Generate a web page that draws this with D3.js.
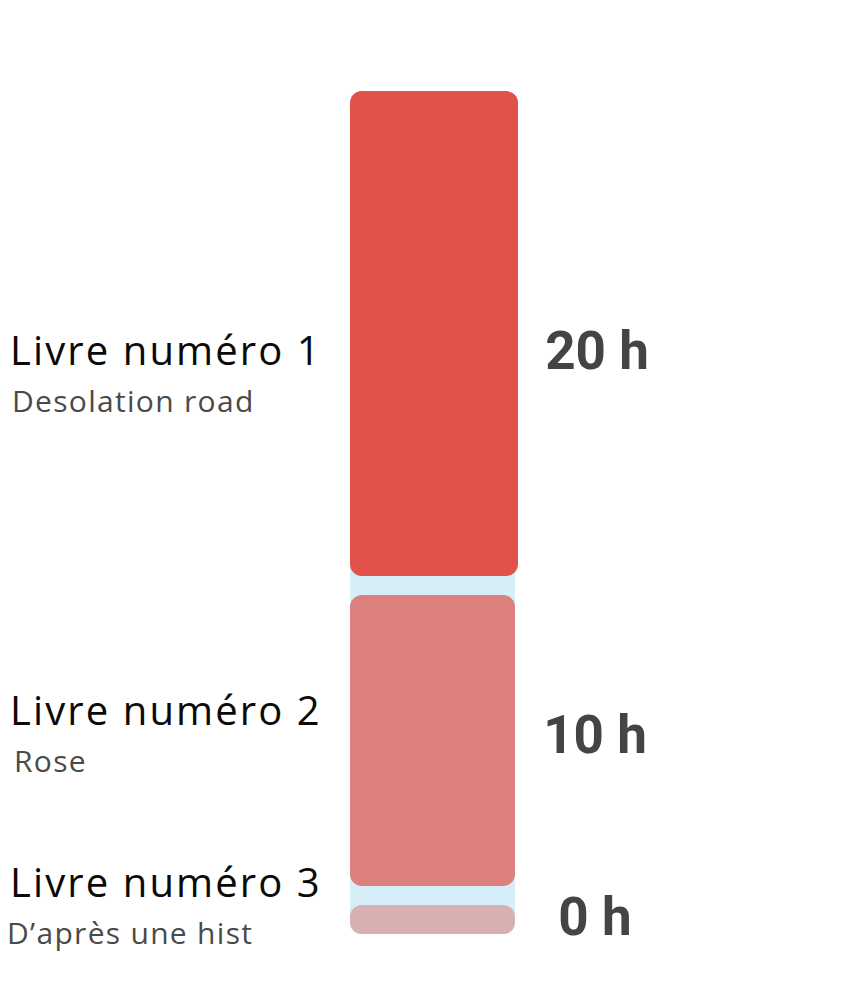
<!DOCTYPE html>
<html><head><meta charset="utf-8">
<script src="https://cdn.jsdelivr.net/npm/d3@7"></script>
<style>html,body{margin:0;padding:0;background:#fff;}svg{display:block;}</style>
</head><body>
<svg id="chart" width="864" height="1006"></svg>
<script>
const titles = ["Livre numéro 1", "Livre numéro 2", "Livre numéro 3"];
const subtitles = ["Desolation road", "Rose", "D’après une hist"];
const barValues = [20, 12, 1.2];
const valueLabels = ["20 h", "10 h", "0 h"];
const colors = ["#e0524a", "#db807d", "#d8b0b1"];

const svg = d3.select("#chart");
const colTop = 91, colBottom = 934, colX0 = 350, colX1 = 515, gap = 19;
const total = d3.sum(barValues);
const k = (colBottom - colTop - gap * (barValues.length - 1)) / total;
const y = d3.scaleLinear().domain([0, total]).range([colTop, colTop + total * k]);

let cum = 0;
const bars = barValues.map((v, i) => {
  const y0 = y(cum) + gap * i;
  const y1 = y(cum + v) + gap * i;
  cum += v;
  return {i, v, y0, y1, c: (y0 + y1) / 2};
});

svg.append("rect").attr("x", colX0).attr("y", colTop).attr("width", colX1 - colX0)
  .attr("height", colBottom - colTop).attr("rx", 10).attr("fill", "#d6eef8");

svg.selectAll("rect.bar").data(bars).join("rect").attr("class", "bar")
  .attr("x", colX0).attr("y", d => d.y0)
  .attr("width", d => (colX1 - colX0) + (d.i === 0 ? 3 : 0))
  .attr("height", d => d.y1 - d.y0)
  .attr("rx", d => Math.min(12, (d.y1 - d.y0) / 2))
  .attr("fill", d => colors[d.i]);

// label offsets relative to the bar centre
const titleShift = [32, -15, -22];
const valueShift = [36, 13, 16];

svg.selectAll("text.title").data(bars).join("text").attr("class", "title")
  .attr("x", 10).attr("y", d => d.c + titleShift[d.i])
  .attr("font-family", "'Open Sans', sans-serif").attr("font-size", 40)
  .attr("letter-spacing", 2.1).attr("fill", "#0a0a0a")
  .text(d => titles[d.i]);
svg.selectAll("text.sub").data(bars).join("text").attr("class", "sub")
  .attr("x", d => [12, 14, 7][d.i]).attr("y", d => d.c + titleShift[d.i] + 47)
  .attr("font-family", "'Open Sans', sans-serif").attr("font-size", 30)
  .attr("letter-spacing", 1.3).attr("fill", "#4a4a4a")
  .text(d => subtitles[d.i]);
svg.selectAll("text.val").data(bars).join("text").attr("class", "val")
  .attr("x", d => d.i === 0 ? 597 : 595).attr("y", d => d.c + valueShift[d.i]).attr("text-anchor", "middle")
  .attr("font-family", "Roboto, sans-serif").attr("font-weight", "bold").attr("font-size", 53)
  .attr("fill", "#444").text(d => valueLabels[d.i]);
</script>
</body></html>
